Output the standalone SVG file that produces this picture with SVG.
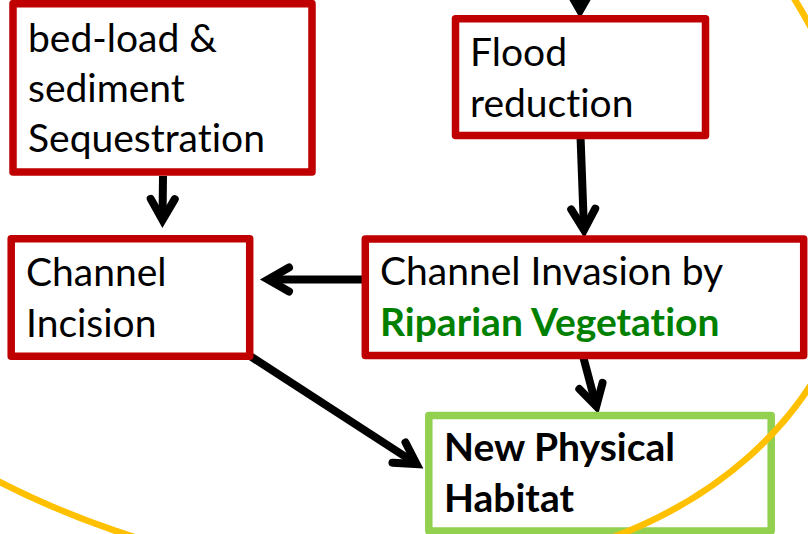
<svg xmlns="http://www.w3.org/2000/svg" width="808" height="534" viewBox="0 0 808 534">
<style>
.box{fill:#fff;stroke:#C00000;stroke-width:7.5;stroke-linejoin:round}
.gbox{fill:#fff;stroke:#92D050;stroke-width:7.5;stroke-linejoin:round}
.t{font-family:Lato,"Open Sans","Liberation Sans",sans-serif;font-size:39px;fill:#000;font-variant-ligatures:none;font-feature-settings:"liga" 0}
.b{font-weight:bold}
.grn{fill:#008000}
.conn{fill:none;stroke:#000;stroke-width:8;marker-end:url(#arr)}
.ring{fill:none;stroke:#FFC000;stroke-width:6.5}
</style>
<defs>
<marker id="arr" markerUnits="userSpaceOnUse" viewBox="-30 -20 40 40" markerWidth="40" markerHeight="40" refX="0" refY="0" orient="auto">
<path d="M-21,-12 L0,0 L-21,12" fill="none" stroke="#000" stroke-width="8" stroke-linecap="round" stroke-linejoin="miter" stroke-miterlimit="10"/>
</marker>
</defs>
<g id="connectors">
<path class="conn" d="M580,-40 L580,10.5"/>
<path d="M170,-1 L197,-1" fill="none" stroke="#000" stroke-width="10" stroke-linecap="round"/>
<path class="conn" d="M163,176 L162.5,220"/>
<path class="conn" d="M580.5,136 L584,230"/>
<path class="conn" d="M365,279.5 L268,279.5"/>
<path class="conn" d="M583,356 L596.3,406.3"/>
<path class="conn" d="M250,356 L416.6,464"/>
</g>
<g id="node-bedload">
<rect class="box" x="13" y="3.7" width="299" height="168.3"/>
<text class="t" x="28" y="51.7">bed-load &amp;</text>
<text class="t" x="28" y="101.7">sediment</text>
<text class="t" x="28" y="151.7">Sequestration</text>
</g>
<g id="node-flood">
<rect class="box" x="455.5" y="18.8" width="250" height="116.7"/>
<text class="t" x="470" y="66">Flood</text>
<text class="t" x="470" y="117.3">reduction</text>
</g>
<g id="node-incision">
<rect class="box" x="11.2" y="238.8" width="238.5" height="117.4"/>
<text class="t" x="26" y="285.7">Channel</text>
<text class="t" x="26" y="337.3">Incision</text>
</g>
<g id="node-invasion">
<rect class="box" x="365.3" y="239" width="438.4" height="116.5"/>
<text class="t" x="380" y="285">Channel Invasion by</text>
<text class="t b grn" x="380" y="336">Riparian Vegetation</text>
</g>
<g id="node-habitat">
<rect class="gbox" x="428.8" y="415.5" width="342.4" height="115.5"/>
<text class="t b" x="444" y="460.7">New Physical</text>
<text class="t b" x="444" y="511.7">Habitat</text>
</g>
<ellipse class="ring" cx="256" cy="116" rx="621" ry="438" transform="rotate(18.9 256 116)"/>
</svg>
